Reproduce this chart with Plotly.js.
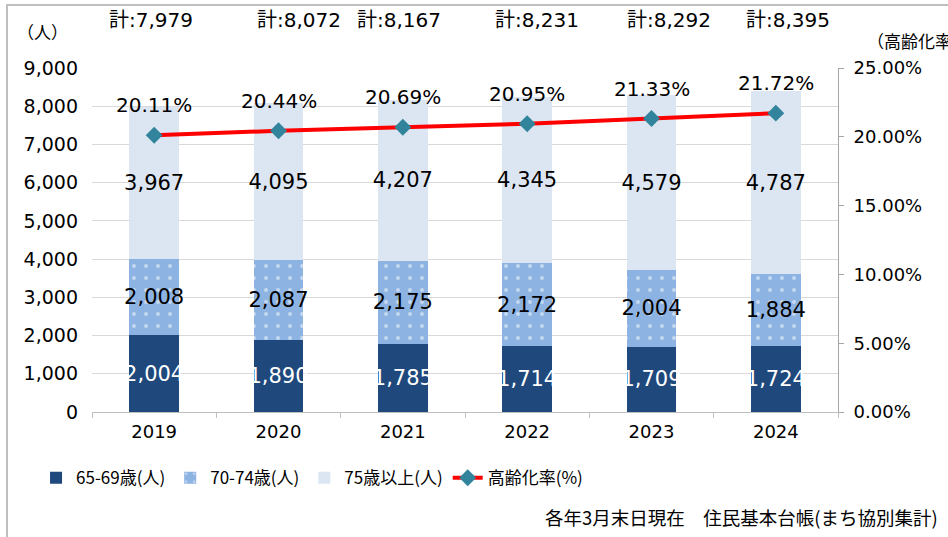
<!DOCTYPE html>
<html>
<head>
<meta charset="utf-8">
<script src="https://cdn.plot.ly/plotly-3.0.1.min.js"></script>
<style>
  html, body { margin: 0; padding: 0; background: #fff; }
  #wrap { position: relative; width: 948px; height: 537px; overflow: hidden; }
  #chart { width: 948px; height: 537px; }
  #frame { position: absolute; left: 6px; top: 4px; width: 960px; height: 560px;
           border-left: 2px solid #BFBFBF; border-top: 2px solid #BFBFBF; pointer-events: none; }
</style>
</head>
<body>
<div id="wrap">
  <div id="chart"></div>
  <div id="frame"></div>
</div>
<script>
// ---- data ----
const years = ['2019', '2020', '2021', '2022', '2023', '2024'];
const age65_69 = [2004, 1890, 1785, 1714, 1709, 1724];
const age70_74 = [2008, 2087, 2175, 2172, 2004, 1884];
const age75plus = [3967, 4095, 4207, 4345, 4579, 4787];
const agingRate = [20.11, 20.44, 20.69, 20.95, 21.33, 21.72];
const seriesNames = ['65-69歳(人)', '70-74歳(人)', '75歳以上(人)', '高齢化率(%)'];

const FONT = 'DejaVu Sans, "Noto Sans CJK JP", sans-serif';
const JFONT = '"Noto Sans CJK JP", sans-serif';
const fmt = v => v.toLocaleString('en-US');
const totals = years.map((_, i) => age65_69[i] + age70_74[i] + age75plus[i]);

const barCommon = {
  type: 'bar', x: years, width: 0.4,
  textposition: 'inside', insidetextanchor: 'middle', constraintext: 'none', textangle: 0,
  hoverinfo: 'skip', cliponaxis: false
};

const traces = [
  Object.assign({}, barCommon, {
    name: seriesNames[0], y: age65_69, text: age65_69.map(fmt),
    marker: { color: '#1F497D', line: { width: 0 } },
    textfont: { family: FONT, size: 21, color: '#FFFFFF' }
  }),
  Object.assign({}, barCommon, {
    name: seriesNames[1], y: age70_74, text: age70_74.map(fmt),
    marker: { color: '#8DB3E2', line: { width: 0 },
      pattern: { shape: '.', fgcolor: '#FFFFFF', bgcolor: '#8DB3E2', size: 12, solidity: 0.08, fillmode: 'overlay' } },
    textfont: { family: FONT, size: 21, color: '#000000' }
  }),
  Object.assign({}, barCommon, {
    name: seriesNames[2], y: age75plus, text: age75plus.map(fmt),
    marker: { color: '#DCE6F2', line: { width: 0 } },
    textfont: { family: FONT, size: 21, color: '#000000' }
  }),
  {
    type: 'scatter', mode: 'lines+markers', name: seriesNames[3],
    x: years, y: agingRate, yaxis: 'y2',
    line: { color: '#FF0000', width: 4 },
    marker: { symbol: 'diamond', size: 13, color: '#31849B', line: { width: 0 } },
    hoverinfo: 'skip', cliponaxis: false
  }
];

const totalXShift = [-3, 20, -4, 10, 17, 12];
const annotations = [];
years.forEach((yr, i) => {
  annotations.push({
    x: i, xref: 'x', y: 1.14, yref: 'paper', xanchor: 'center', yanchor: 'middle', xshift: totalXShift[i],
    text: '計:' + fmt(totals[i]), showarrow: false,
    font: { family: FONT, size: 20, color: '#000' }
  });
  annotations.push({
    x: i, xref: 'x', y: agingRate[i], yref: 'y2', xanchor: 'center', yanchor: 'middle', yshift: 30,
    text: agingRate[i].toFixed(2) + '%', showarrow: false,
    font: { family: FONT, size: 20, color: '#000' }
  });
});
annotations.push({
  x: -0.067, xref: 'paper', y: 1.105, yref: 'paper', xanchor: 'center', yanchor: 'middle',
  text: '（人）', showarrow: false,
  font: { family: JFONT, size: 17, color: '#000' }
});
annotations.push({
  x: 1.036, xref: 'paper', xanchor: 'left', y: 1.081, yref: 'paper', yanchor: 'middle',
  text: '（高齢化率）', showarrow: false,
  font: { family: JFONT, size: 17, color: '#000' }
});
annotations.push({
  x: 1.137, xref: 'paper', xanchor: 'right', y: -0.305, yref: 'paper', yanchor: 'middle',
  text: '各年3月末日現在　住民基本台帳(まち協別集計)',
  showarrow: false, font: { family: JFONT, size: 18.5, color: '#000' }
});

const layout = {
  width: 948, height: 537,
  margin: { l: 92, r: 110, t: 68, b: 125 },
  paper_bgcolor: '#FFFFFF', plot_bgcolor: '#FFFFFF',
  barmode: 'stack', bargap: 0.6,
  font: { family: FONT, size: 17, color: '#000' },
  showlegend: true,
  legend: {
    orientation: 'h', x: -0.075, xanchor: 'left', y: -0.14, yanchor: 'top',
    font: { family: JFONT, size: 17, color: '#000' }, traceorder: 'normal',
    itemwidth: 30, bgcolor: 'rgba(0,0,0,0)'
  },
  xaxis: {
    type: 'category', categoryorder: 'array', categoryarray: years,
    range: [-0.5, years.length - 0.5], autorange: false,
    showline: true, linecolor: '#BFBFBF', linewidth: 1,
    ticks: 'outside', tickson: 'boundaries', ticklen: 5, tickcolor: '#BFBFBF',
    tickangle: 0, ticklabelstandoff: 3,
    showgrid: false, tickfont: { family: FONT, size: 18, color: '#000' }
  },
  yaxis: {
    range: [0, 9000], dtick: 1000, tickformat: ',d', showline: false, ticks: '',
    showgrid: true, gridcolor: '#D9D9D9', gridwidth: 1, zeroline: false,
    ticklabelstandoff: 13,
    tickfont: { family: FONT, size: 19, color: '#000' }
  },
  yaxis2: {
    overlaying: 'y', side: 'right', range: [0, 25], dtick: 5,
    tickformat: '.2f', ticksuffix: '%', showgrid: false, zeroline: false,
    showline: true, linecolor: '#A6A6A6', linewidth: 1,
    ticks: 'outside', ticklen: 5, tickcolor: '#A6A6A6', ticklabelstandoff: 6,
    tickfont: { family: FONT, size: 18, color: '#000' }
  },
  annotations: annotations
};

Plotly.newPlot('chart', traces, layout, { displayModeBar: false, staticPlot: true });
</script>
</body>
</html>
